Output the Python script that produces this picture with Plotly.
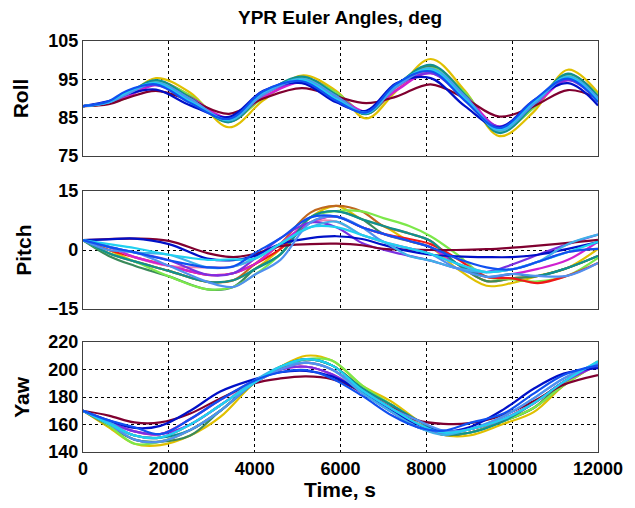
import plotly.graph_objects as go

# ---------------- data ----------------
t_roll = [0, 600, 1000, 1700, 2500, 3400, 4200, 5100, 5900, 6600, 7300, 8100, 8900, 9700, 10500, 11300, 12000]
t_pitch = [0, 600, 1200, 2000, 2900, 3500, 4000, 4600, 5300, 5900, 6500, 7000, 7600, 8100, 8700, 9400, 10000, 10600, 11300, 12000]
t_yaw = [0, 600, 1200, 1800, 2500, 3200, 4000, 4600, 5200, 5800, 6500, 7200, 7800, 8400, 9000, 9800, 10500, 11200, 12000]

run_names = ["yellow", "orange", "dkgreen", "lightgreen", "red", "pink", "magenta", "teal",
             "purple", "maroon", "darkblue", "sky", "lightblue", "cyan", "blue"]

run_colors = {
    "yellow": "#E0C000", "orange": "#C0681E", "dkgreen": "#3A8A5A", "lightgreen": "#7CE84A",
    "red": "#F01818", "pink": "#F080B0", "magenta": "#D020D0", "teal": "#109090",
    "purple": "#7A30E0", "maroon": "#800030", "darkblue": "#0010C8", "sky": "#40B0E8",
    "lightblue": "#5090F0", "cyan": "#20D0F0", "blue": "#1050F0",
}

roll = {
    "yellow":     [88, 88.8, 90.5, 95.3, 91.5, 82.5, 89.5, 96.0, 92.0, 84.8, 92.0, 100.3, 92.0, 80.2, 86.5, 97.5, 91.5],
    "maroon":     [88, 88.5, 90.0, 92.0, 89.5, 86.0, 90.0, 92.7, 90.5, 88.8, 90.5, 93.7, 90.0, 85.3, 88.0, 92.2, 90.0],
    "darkblue":   [88, 89.3, 91.0, 92.3, 88.2, 85.2, 92.0, 94.0, 89.0, 86.8, 94.0, 95.3, 88.0, 82.5, 89.5, 94.0, 88.2],
    "cyan":       [88, 89.1, 91.5, 94.0, 89.2, 84.5, 91.6, 94.8, 89.9, 86.3, 93.6, 97.5, 89.9, 82.0, 89.1, 95.5, 89.4],
    "blue":       [88, 89.3, 91.9, 93.7, 88.8, 84.7, 91.9, 94.5, 89.4, 86.4, 93.8, 97.1, 89.4, 82.3, 89.5, 95.2, 89.0],
    "sky":        [88, 89.0, 91.1, 94.2, 89.8, 84.3, 91.1, 95.1, 90.6, 86.2, 93.2, 97.9, 90.6, 81.6, 88.5, 95.8, 90.0],
    "magenta":    [88, 88.9, 90.3, 93.5, 90.2, 85.0, 90.3, 94.2, 90.8, 86.6, 92.1, 96.6, 90.8, 82.7, 88.0, 94.8, 90.4],
    "purple":     [88, 89.1, 91.3, 93.5, 89.2, 85.0, 91.3, 94.2, 89.8, 86.6, 93.1, 96.6, 89.8, 82.7, 89.0, 94.8, 89.4],
    "lightgreen": [88, 88.8, 90.1, 94.2, 90.8, 84.3, 90.1, 95.1, 91.6, 86.2, 92.2, 97.9, 91.6, 81.6, 87.5, 95.8, 91.0],
    "red":        [88, 88.9, 90.4, 93.7, 90.3, 84.7, 90.4, 94.5, 90.9, 86.4, 92.3, 97.1, 90.9, 82.3, 88.0, 95.2, 90.5],
    "orange":     [88, 88.8, 90.4, 94.5, 90.7, 84.0, 90.4, 95.4, 91.5, 86.0, 92.6, 98.4, 91.5, 81.3, 87.7, 96.2, 90.9],
    "dkgreen":    [88, 89.0, 91.2, 94.5, 89.9, 84.0, 91.2, 95.4, 90.7, 86.0, 93.4, 98.4, 90.7, 81.3, 88.5, 96.2, 90.1],
    "pink":       [88, 89.0, 90.9, 93.7, 89.8, 84.7, 90.9, 94.5, 90.4, 86.4, 92.8, 97.1, 90.4, 82.3, 88.5, 95.2, 90.0],
    "teal":       [88, 88.9, 91.0, 94.8, 90.2, 83.8, 91.0, 95.7, 91.0, 85.9, 93.3, 98.8, 91.0, 81.0, 88.1, 96.5, 90.5],
    "lightblue":  [88, 89.0, 91.0, 94.0, 89.8, 84.5, 91.0, 94.8, 90.5, 86.3, 93.0, 97.5, 90.5, 82.0, 88.5, 95.5, 90.0],
}

pitch = {
    "cyan":       [2.5, 1.5, 0.5, -1.2, -2.5, -2.4, -2.2, 1.6, 5.8, 5.8, 3.8, 2.1, 0.4, -1.0, -3.4, -5.6, -4.9, -3.0, -0.5, 2.1],
    "purple":     [2.5, 0.8, -0.6, -2.6, -6.3, -5.9, -2.2, 3.0, 7.0, 5.8, 1.8, 0.1, -1.5, -2.7, -4.6, -5.6, -3.7, -1.2, 1.5, 3.9],
    "lightgreen": [2.5, -0.8, -2.9, -6.7, -10.0, -9.4, -6.3, -1.1, 8.3, 9.9, 9.8, 8.1, 6.1, 3.5, -1.0, -6.8, -7.5, -8.0, -6.5, -2.0],
    "yellow":     [2.5, 0.0, -2.9, -5.3, -8.1, -7.7, -4.9, 0.3, 8.3, 11.2, 7.8, 6.1, 2.3, 0.7, -4.6, -9.1, -8.4, -6.6, -4.5, 0.3],
    "orange":     [2.5, -0.8, -2.9, -5.3, -8.1, -7.7, -3.6, 1.6, 9.5, 11.2, 9.8, 6.1, 4.2, 2.3, -3.4, -7.9, -7.2, -6.6, -4.5, -1.5],
    "dkgreen":    [2.5, -1.5, -4.0, -6.7, -10.0, -9.4, -4.9, -1.1, 8.3, 9.9, 7.8, 4.1, 2.3, 0.7, -3.4, -7.9, -7.2, -6.6, -4.5, -1.5],
    "red":        [2.5, 0.0, -1.8, -4.0, -6.3, -5.9, -3.6, 0.3, 7.0, 8.5, 5.8, 4.1, 2.8, 1.5, -2.1, -6.8, -7.2, -8.4, -6.5, -3.3],
    "blue":       [2.5, 0.8, -0.6, -2.6, -4.4, -4.2, -0.8, 3.0, 8.3, 8.5, 5.8, 4.1, 2.3, 0.7, -2.1, -4.4, -4.9, -3.0, -0.5, 0.3],
    "lightblue":  [2.5, 0.0, -0.6, -4.0, -8.1, -9.4, -6.3, -2.5, 7.0, 8.5, 5.8, 2.1, 0.4, -1.0, -4.6, -6.8, -6.1, -6.6, -6.5, -3.3],
    "magenta":    [2.5, 0.8, -1.8, -4.0, -6.3, -5.9, -3.6, 1.6, 7.0, 8.5, 5.8, 4.1, 2.3, 0.7, -3.4, -6.8, -6.1, -4.8, -2.5, 2.1],
    "teal":       [2.5, -0.8, -2.9, -5.3, -8.1, -7.7, -4.9, -1.1, 8.3, 9.9, 7.8, 6.1, 4.2, 2.3, -3.4, -6.8, -6.1, -6.6, -4.5, -1.5],
    "pink":       [2.5, 0.8, -1.8, -4.0, -4.4, -4.2, -2.2, 1.6, 7.0, 7.2, 3.8, 2.1, 0.4, -1.0, -3.4, -5.6, -4.9, -3.0, -0.5, 0.3],
    "sky":        [2.5, 0.8, -0.6, -1.2, -4.4, -4.2, -2.2, 1.6, 5.8, 7.2, 3.8, 2.1, -1.5, -2.7, -4.6, -5.6, -4.9, -3.0, 1.5, 3.9],
    "darkblue":   [2.5, 2.7, 2.9, 1.5, -2.2, -2.6, -1.5, 1.5, 3.0, 3.5, 2.8, 1.3, -0.3, -1.2, -1.6, -1.8, -1.8, -1.2, 0.3, 2.0],
    "maroon":     [2.5, 2.8, 2.9, 2.3, -0.8, -1.8, -1.0, 1.0, 1.5, 1.6, 1.2, 0.3, 0.1, 0.0, 0.0, 0.2, 0.6, 1.1, 1.8, 2.6],
}

yaw = {
    "yellow":     [170, 158.0, 146.0, 145.0, 152.0, 165.5, 190.5, 202.0, 210.0, 206.5, 188.5, 176.5, 163.0, 152.5, 152.0, 160.5, 169.0, 188.5, 206.0],
    "orange":     [170, 159.3, 149.0, 147.5, 156.0, 170.0, 190.5, 202.0, 207.5, 203.0, 186.5, 174.0, 160.5, 152.5, 154.0, 162.5, 172.0, 188.5, 204.5],
    "dkgreen":    [170, 159.3, 149.0, 147.5, 152.0, 170.0, 190.5, 200.0, 207.5, 203.0, 186.5, 174.0, 160.5, 152.5, 154.0, 162.5, 172.0, 191.0, 204.5],
    "lightgreen": [170, 159.3, 146.0, 147.5, 156.0, 170.0, 190.5, 202.0, 207.5, 206.5, 188.5, 174.0, 160.5, 154.0, 154.0, 162.5, 172.0, 188.5, 204.5],
    "cyan":       [170, 160.5, 152.0, 150.5, 160.0, 174.0, 190.5, 202.0, 207.5, 203.0, 185.0, 171.5, 160.5, 154.0, 156.5, 164.0, 175.5, 191.0, 206.0],
    "purple":     [170, 161.8, 155.0, 153.0, 160.0, 174.0, 190.5, 200.0, 202.0, 196.5, 183.0, 169.0, 158.0, 154.0, 156.5, 164.0, 175.5, 191.0, 203.0],
    "magenta":    [170, 161.8, 155.0, 153.0, 164.0, 178.0, 192.0, 200.0, 202.0, 196.5, 183.0, 169.0, 158.0, 154.0, 156.5, 164.0, 175.5, 191.0, 203.0],
    "red":        [170, 160.5, 152.0, 150.5, 160.0, 174.0, 190.5, 200.0, 205.0, 200.0, 185.0, 171.5, 160.5, 154.0, 156.5, 164.0, 175.5, 191.0, 203.0],
    "blue":       [170, 163.0, 158.0, 153.0, 164.0, 178.0, 192.0, 198.0, 199.5, 193.5, 181.0, 166.5, 158.0, 155.5, 161.0, 168.0, 182.5, 196.0, 203.0],
    "lightblue":  [170, 160.5, 149.0, 147.5, 156.0, 170.0, 190.5, 200.0, 205.0, 200.0, 185.0, 171.5, 163.0, 155.5, 156.5, 166.0, 179.0, 193.5, 204.5],
    "teal":       [170, 160.5, 152.0, 150.5, 156.0, 170.0, 190.5, 202.0, 207.5, 203.0, 186.5, 174.0, 163.0, 154.0, 154.0, 162.5, 175.5, 191.0, 204.5],
    "pink":       [170, 161.8, 155.0, 153.0, 164.0, 178.0, 190.5, 200.0, 202.0, 196.5, 185.0, 171.5, 160.5, 154.0, 156.5, 164.0, 175.5, 191.0, 203.0],
    "sky":        [170, 161.8, 152.0, 150.5, 160.0, 174.0, 192.0, 202.0, 205.0, 200.0, 183.0, 169.0, 158.0, 152.5, 156.5, 166.0, 179.0, 193.5, 204.5],
    "darkblue":   [170, 163.0, 157.5, 159.0, 170.0, 184.0, 193.0, 198.0, 199.0, 195.0, 184.0, 170.0, 160.0, 155.0, 158.0, 171.0, 186.0, 197.0, 201.0],
    "maroon":     [170, 166.5, 161.5, 161.5, 168.0, 179.0, 190.0, 193.5, 195.0, 193.0, 184.0, 172.0, 163.0, 160.5, 161.0, 167.0, 177.0, 189.0, 196.0],
}

x_ticks = [0, 2000, 4000, 6000, 8000, 10000, 12000]
x_ticktext = ["0", "2000", "4000", "6000", "8000", "10000", "12000"]
roll_ticks = [75, 85, 95, 105]
pitch_ticks = [-15, 0, 15]
yaw_ticks = [140, 160, 180, 200, 220]

# ---------------- figure ----------------
W, H = 635, 508
ML, MR, MT, MB = 83, 30, 41, 56
ph = H - MT - MB  # plot height in px


def dom(top_px, bot_px):
    return [(H - MB - bot_px) / ph, (H - MB - top_px) / ph]


fig = go.Figure()

panels = [
    (roll, t_roll, "x", "y"),
    (pitch, t_pitch, "x2", "y2"),
    (yaw, t_yaw, "x3", "y3"),
]
for data, tt, xa, ya in panels:
    for name in run_names:
        fig.add_trace(go.Scatter(
            x=tt, y=data[name], mode="lines", xaxis=xa, yaxis=ya,
            line=dict(color=run_colors[name], width=2.2, shape="spline", smoothing=1.0),
            showlegend=False, hoverinfo="skip",
        ))

tick_font = dict(family="Liberation Sans, Arial, sans-serif", size=18, color="black", weight="bold")
axis_common = dict(
    showline=True, mirror=True, linecolor="#404040", linewidth=1.3,
    showgrid=True, gridcolor="black", gridwidth=1, griddash="3px,3px",
    zeroline=False, ticks="", tickfont=tick_font,
)

xcommon = dict(axis_common, range=[0, 12000], tickvals=x_ticks, ticktext=x_ticktext)
fig.update_layout(
    width=W, height=H,
    margin=dict(l=ML, r=MR, t=MT, b=MB),
    plot_bgcolor="white", paper_bgcolor="white",
    xaxis=dict(xcommon, anchor="y", showticklabels=False),
    xaxis2=dict(xcommon, anchor="y2", matches="x", showticklabels=False),
    xaxis3=dict(xcommon, anchor="y3", matches="x", showticklabels=True),
    yaxis=dict(axis_common, domain=dom(41, 156), range=[75, 105], tickvals=roll_ticks, anchor="x"),
    yaxis2=dict(axis_common, domain=dom(191, 309), range=[-15, 15], tickvals=pitch_ticks, anchor="x2"),
    yaxis3=dict(axis_common, domain=dom(342, 452), range=[140, 220], tickvals=yaw_ticks, anchor="x3"),
)

label_font = dict(family="Liberation Sans, Arial, sans-serif", size=21, color="black", weight="bold")


def px_to_paper_x(px):
    return (px - ML) / (W - ML - MR)


def px_to_paper_y(py):
    return (H - MB - py) / ph


fig.add_annotation(text="YPR Euler Angles, deg", xref="paper", yref="paper",
                   x=px_to_paper_x(343), y=px_to_paper_y(17), showarrow=False,
                   xanchor="center", yanchor="middle",
                   font=dict(family="Liberation Sans, Arial, sans-serif", size=19, color="black", weight="bold"))
fig.add_annotation(text="Time, s", xref="paper", yref="paper",
                   x=px_to_paper_x(343), y=px_to_paper_y(489), showarrow=False,
                   xanchor="center", yanchor="middle", font=label_font)
for txt, xc, yc in [("Roll", 20, 98.5), ("Pitch", 23, 250), ("Yaw", 20, 397)]:
    fig.add_annotation(text=txt, xref="paper", yref="paper", textangle=-90,
                       x=px_to_paper_x(xc), y=px_to_paper_y(yc), showarrow=False,
                       xanchor="center", yanchor="middle", font=label_font)

fig.write_html("out.html", config={"displayModeBar": False},
               post_script="document.body.style.margin='0';")
